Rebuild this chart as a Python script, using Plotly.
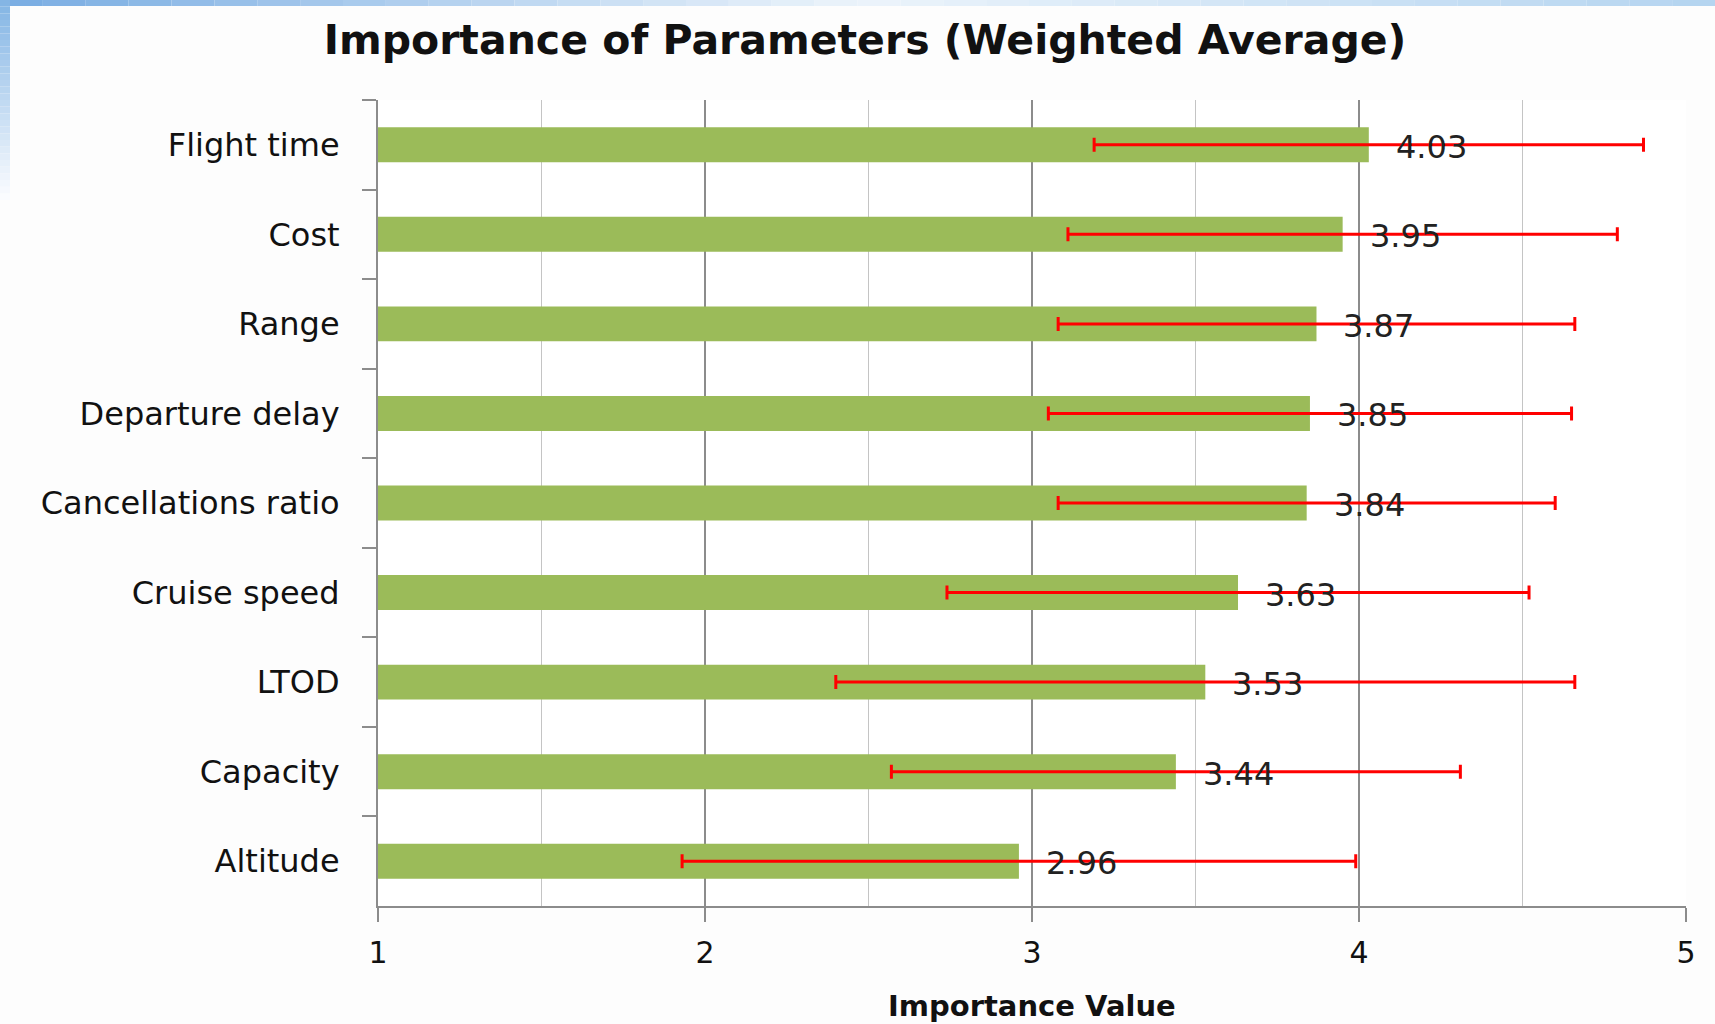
import plotly.graph_objects as go

# ---- data ----
categories = ["Flight time", "Cost", "Range", "Departure delay", "Cancellations ratio",
              "Cruise speed", "LTOD", "Capacity", "Altitude"]
values = [4.03, 3.95, 3.87, 3.85, 3.84, 3.63, 3.53, 3.44, 2.96]
errors = [0.84, 0.84, 0.79, 0.80, 0.76, 0.89, 1.13, 0.87, 1.03]
value_labels = ["4.03", "3.95", "3.87", "3.85", "3.84", "3.63", "3.53", "3.44", "2.96"]
x_ticks = [1, 2, 3, 4, 5]

W, H = 1715, 1024
L, R, T, B = 378, 29, 100, 118

FONT = "DejaVu Sans"

fig = go.Figure()
fig.add_trace(go.Bar(
    x=values, y=categories, orientation="h",
    marker=dict(color="#9BBB59", line=dict(width=0)),
    error_x=dict(type="data", array=errors, visible=True,
                 color="#FF0000", thickness=3, width=7),
    hoverinfo="x+y", showlegend=False,
))

annotations = []
for c, v, lab in zip(categories, values, value_labels):
    annotations.append(dict(
        x=v, y=c, xref="x", yref="y", text=lab, showarrow=False,
        xanchor="left", yanchor="middle", xshift=25, yshift=-2,
        font=dict(family=FONT, size=32, color="#222222"),
    ))
annotations.append(dict(
    x=0.5, y=-(1006 - (H - B)) / (H - T - B), xref="paper", yref="paper",
    text="<b>Importance Value</b>",
    showarrow=False, xanchor="center", yanchor="middle",
    font=dict(family=FONT, size=29, color="#111111"),
))

# decorative slide background (blue gradient strips)
shapes = []
def lerp(a, b, t):
    return tuple(int(round(a[i] + (b[i] - a[i]) * t)) for i in range(3))

PW, PH = W - L - R, H - T - B
n = 40
for i in range(n):
    t = (i + 0.5) / n
    if t < 0.5:
        col = lerp((120, 172, 226), (236, 244, 251), t / 0.5)
    else:
        col = lerp((236, 244, 251), (180, 212, 240), (t - 0.5) / 0.5)
    shapes.append(dict(type="rect", xref="paper", yref="paper", layer="below",
                       x0=(-L + i * W / n) / PW, x1=(-L + (i + 1) * W / n) / PW,
                       y0=1 + (T - 6) / PH, y1=1 + T / PH + 0.01,
                       fillcolor="rgb(%d,%d,%d)" % col, line=dict(width=0)))
m = 30
for i in range(m):
    y0 = i * 200 / m
    y1 = (i + 1) * 200 / m
    t = (i + 0.5) / m
    col = lerp((130, 180, 228), (252, 253, 255), t)
    shapes.append(dict(type="rect", xref="paper", yref="paper", layer="below",
                       x0=-L / PW - 0.01, x1=(10 - L) / PW,
                       y0=1 + (T - y1) / PH, y1=1 + (T - y0) / PH,
                       fillcolor="rgb(%d,%d,%d)" % col, line=dict(width=0)))

fig.update_layout(
    width=W, height=H,
    margin=dict(l=L, r=R, t=T, b=B),
    paper_bgcolor="#FDFDFD", plot_bgcolor="#FFFFFF",
    bargap=0.61,
    title=dict(text="<b>Importance of Parameters (Weighted Average)</b>",
               x=865 / W, xanchor="center", y=1 - 40 / H, yanchor="middle",
               font=dict(family=FONT, size=41, color="#111111")),
    xaxis=dict(range=[1, 5], tickvals=x_ticks, ticktext=[str(v) for v in x_ticks],
               showgrid=True, gridcolor="#8C8C8C", gridwidth=1.5,
               minor=dict(dtick=0.5, showgrid=True, gridcolor="#C4C4C4", gridwidth=1.2,
                          ticks=""),
               showline=True, linecolor="#8C8C8C", linewidth=2,
               ticks="outside", ticklen=14, tickcolor="#8C8C8C", tickwidth=2,
               ticklabelstandoff=5,
               tickfont=dict(family=FONT, size=30, color="#111111"),
               zeroline=False, fixedrange=True),
    yaxis=dict(categoryorder="array", categoryarray=categories, autorange="reversed",
               showline=True, linecolor="#8C8C8C", linewidth=2,
               ticks="outside", ticklen=14, tickcolor="#8C8C8C", tickwidth=2,
               tickson="boundaries", showgrid=False,
               ticklabelstandoff=30,
               tickfont=dict(family=FONT, size=32, color="#111111"),
               fixedrange=True),
    annotations=annotations,
    shapes=shapes,
)

fig.write_html("out.html",
               config={"displayModeBar": False},
               post_script="document.body.style.margin='0';document.body.style.overflow='hidden';")
